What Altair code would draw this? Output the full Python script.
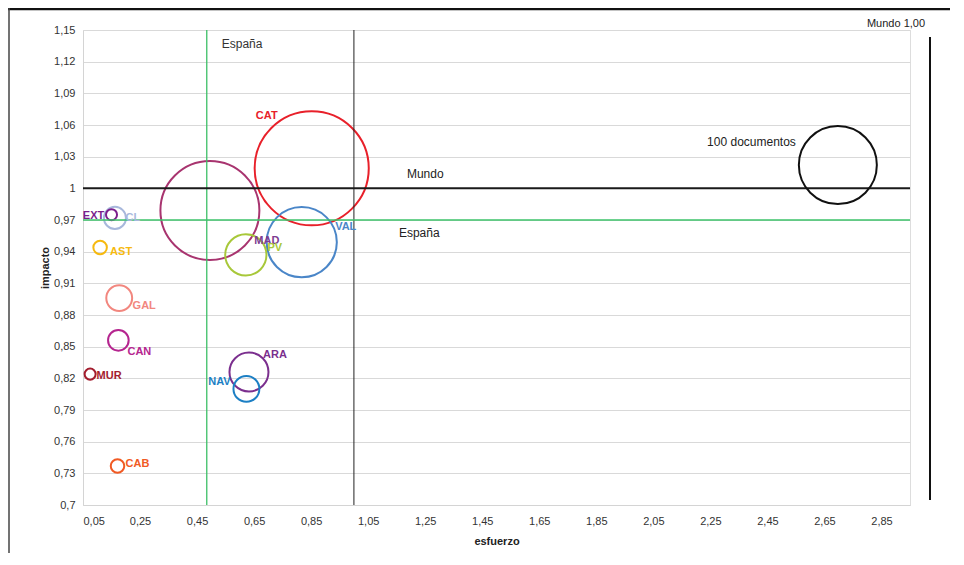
import altair as alt
import pandas as pd

# ---- data ----
regions = ["CAT", "MAD", "VAL", "PV", "ARA", "NAV", "GAL", "CL", "CAN", "CAB", "AST", "EXT", "MUR"]
esfuerzo = [0.852, 0.495, 0.817, 0.621, 0.632, 0.623, 0.177, 0.162, 0.174, 0.171, 0.110, 0.150, 0.075]
impacto = [1.019, 0.979, 0.949, 0.937, 0.826, 0.810, 0.896, 0.972, 0.856, 0.737, 0.944, 0.975, 0.824]
documentos = [214, 161, 81, 28, 25, 11, 11, 8, 7, 3, 3, 2, 2]

ref_docs = 100
ref_esfuerzo = 2.697
ref_impacto = 1.022

espana_esfuerzo = 0.484
espana_impacto = 0.97
mundo_esfuerzo = 1.0
mundo_impacto = 1.0

x_ticks = [0.05, 0.25, 0.45, 0.65, 0.85, 1.05, 1.25, 1.45, 1.65, 1.85, 2.05, 2.25, 2.45, 2.65, 2.85]
y_ticks = [0.7, 0.73, 0.76, 0.79, 0.82, 0.85, 0.88, 0.91, 0.94, 0.97, 1.0, 1.03, 1.06, 1.09, 1.12, 1.15]

# ---- styles ----
circle_colors = ["#e8202a", "#a8346f", "#4a86c8", "#a8c83a", "#7b2f8e", "#1c7fc4", "#f2877f",
                 "#a8b8dc", "#b5258f", "#f15a24", "#f6b90f", "#7b1f8c", "#a31d2e"]
label_colors = ["#e8202a", "#7d3c92", "#4a86c8", "#a8c83a", "#7b2f8e", "#1c7fc4", "#f2877f",
                "#a8b8dc", "#b5258f", "#f15a24", "#f6b90f", "#7b1f8c", "#a31d2e"]
label_dx = [-45, 57, 44, 29, 26, -27, 25, 18, 21, 20, 21, -18, 19]
label_dy = [-52, 30, -15, -7, -17, -7, 8, 0, 12, -2, 5, 1, 2]

FONT = "Liberation Sans"
W, H = 827, 475
REF_RADIUS = 39  # pixel radius of the 100-document reference circle

df = pd.DataFrame({"region": regions, "esfuerzo": esfuerzo, "impacto": impacto, "documentos": documentos})
ref_df = pd.DataFrame({"esfuerzo": [ref_esfuerzo], "impacto": [ref_impacto], "documentos": [ref_docs]})

fmt = "replace(format(datum.value, '.2~f'), '.', ',')"

xscale = alt.Scale(domain=[0.05, 2.95], nice=False, zero=False)
yscale = alt.Scale(domain=[0.7, 1.15], nice=False, zero=False)
size_scale = alt.Scale(domain=[0, 100], range=[0, (2 * REF_RADIUS) ** 2])

X = alt.X("esfuerzo:Q", scale=xscale, title="esfuerzo",
          axis=alt.Axis(values=x_ticks, tickCount=len(x_ticks), labelExpr=fmt, grid=False, ticks=False,
                        labelOverlap=False, domainColor="#d4d4d4", labelFont=FONT, labelFontSize=11,
                        labelColor="#333", labelPadding=10, titleFont=FONT, titleFontSize=11,
                        titleFontWeight="bold", titleColor="#222", titlePadding=9))
Y = alt.Y("impacto:Q", scale=yscale, title="impacto",
          axis=alt.Axis(values=y_ticks, tickCount=len(y_ticks), labelExpr=fmt, grid=True,
                        gridColor="#d9d9d9", ticks=False, labelOverlap=False,
                        domainColor="#d4d4d4", labelFont=FONT, labelFontSize=11, labelColor="#333",
                        labelPadding=8, titleFont=FONT, titleFontSize=11, titleFontWeight="bold",
                        titleColor="#222", titlePadding=3))

base = alt.Chart(df)

bubbles = base.mark_point(shape="circle", filled=False, strokeWidth=2, opacity=1).encode(
    x=X, y=Y,
    size=alt.Size("documentos:Q", scale=size_scale, legend=None),
    color=alt.Color("region:N", scale=alt.Scale(domain=regions, range=circle_colors), legend=None),
)

ref_circle = alt.Chart(ref_df).mark_point(shape="circle", filled=False, strokeWidth=2, color="#111", opacity=1).encode(
    x="esfuerzo:Q", y="impacto:Q",
    size=alt.Size("documentos:Q", scale=size_scale, legend=None),
)
ref_text = alt.Chart(ref_df).mark_text(text="100 documentos", align="right", dx=-42, dy=-23,
                                       font=FONT, fontSize=12, color="#222").encode(
    x="esfuerzo:Q", y="impacto:Q")

labels = []
for i, r in enumerate(regions):
    labels.append(
        base.transform_filter(alt.datum.region == r).mark_text(
            align="center", baseline="middle", dx=label_dx[i], dy=label_dy[i],
            font=FONT, fontSize=11, fontWeight="bold", color=label_colors[i]
        ).encode(x="esfuerzo:Q", y="impacto:Q", text="region:N")
    )

lines_df = pd.DataFrame({"esp_x": [espana_esfuerzo], "esp_y": [espana_impacto],
                         "mun_x": [mundo_esfuerzo], "mun_y": [mundo_impacto]})
lb = alt.Chart(lines_df)
v_esp = lb.mark_rule(color="#3cbf66", strokeWidth=1.3).encode(x="esp_x:Q")
v_mun = lb.mark_rule(color="#222", strokeWidth=1).encode(x="mun_x:Q")
h_mun = lb.mark_rule(color="#1a1a1a", strokeWidth=2).encode(y="mun_y:Q")
h_esp = lb.mark_rule(color="#3cc36a", strokeWidth=1.5).encode(y="esp_y:Q")

t_esp_top = lb.mark_text(text="España", align="left", dx=15, font=FONT, fontSize=12, color="#333").encode(
    x="esp_x:Q", y=alt.value(14))
t_mun = lb.mark_text(text="Mundo", align="left", dx=53, dy=-14, font=FONT, fontSize=12, color="#222").encode(
    x="mun_x:Q", y="mun_y:Q")
t_esp = lb.mark_text(text="España", align="left", dx=45, dy=13, font=FONT, fontSize=12, color="#222").encode(
    x="mun_x:Q", y="esp_y:Q")

mundo_top = lb.mark_text(text="Mundo 1,00", align="center", font=FONT, fontSize=11, color="#222").encode(
    x=alt.value(813), y=alt.value(-6))
right_bar = lb.mark_rule(color="#111", strokeWidth=2).encode(
    x=alt.value(847), y=alt.value(7), y2=alt.value(470))
frame_top = lb.mark_rule(color="#111", strokeWidth=2.5).encode(
    x=alt.value(-75), x2=alt.value(880), y=alt.value(-21))
frame_left = lb.mark_rule(color="#444", strokeWidth=1.5).encode(
    x=alt.value(-74), y=alt.value(-22), y2=alt.value(530))

chart = alt.layer(
    bubbles, v_esp, v_mun, h_esp, h_mun, ref_circle, ref_text, *labels,
    t_esp_top, t_mun, t_esp, mundo_top, right_bar, frame_top, frame_left
).properties(
    width=W, height=H,
    autosize=alt.AutoSizeParams(type="none"),
    padding={"left": 75, "top": 22, "right": 40, "bottom": 48},
).configure_view(stroke="#d9d9d9", strokeWidth=1).configure(background="white")

chart.save("out.html", embed_options={"renderer": "svg", "actions": False})
